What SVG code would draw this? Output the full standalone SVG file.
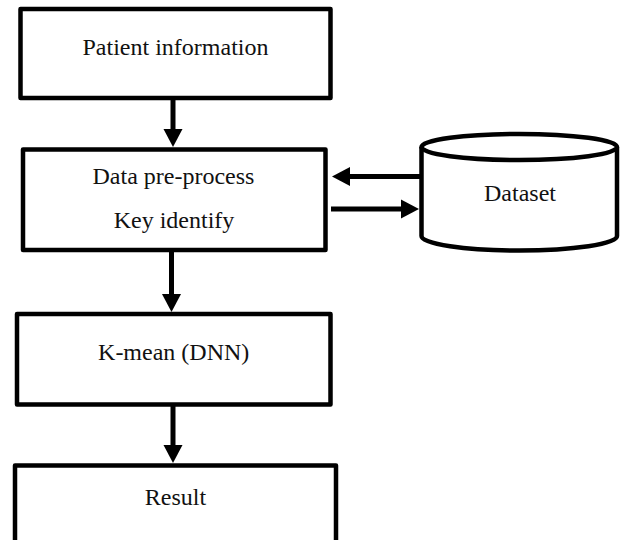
<svg xmlns="http://www.w3.org/2000/svg" width="624" height="540" viewBox="0 0 624 540">
<style>
.box{fill:#fff;stroke:#000;stroke-width:4.5;stroke-linejoin:round}
.db{fill:#fff;stroke:#000;stroke-width:4.5}
.lbl{font-family:"Liberation Serif","Times New Roman",serif;font-size:24px;fill:#111;text-anchor:middle}
.conn{stroke:#000;stroke-width:5;fill:none}
</style>
<defs>
<marker id="ah" markerUnits="userSpaceOnUse" markerWidth="18" markerHeight="20" viewBox="0 0 18 20" refX="3" refY="10" orient="auto">
<path d="M0,0.5 L18,10 L0,19.5 Z" fill="#000"/>
</marker>
</defs>
<rect width="624" height="540" fill="#fff"/>
<g id="patient">
<rect class="box" x="20.5" y="9" width="310" height="89"/>
<text class="lbl" x="175.5" y="55">Patient information</text>
</g>
<g id="preprocess">
<rect class="box" x="23" y="149.5" width="302.5" height="100.5"/>
<text class="lbl" x="173.5" y="184">Data pre-process</text>
<text class="lbl" x="174" y="227.5">Key identify</text>
</g>
<g id="dataset">
<path class="db" d="M421.5,147 A97.75,13 0 0 1 617,147 L617,236 A97.75,14.5 0 0 1 421.5,236 Z"/>
<path class="db" d="M421.5,147 A97.75,13 0 0 0 617,147"/>
<text class="lbl" x="520" y="200.5">Dataset</text>
</g>
<g id="kmean">
<rect class="box" x="17" y="314" width="313.5" height="90.5"/>
<text class="lbl" x="173.7" y="360">K-mean (DNN)</text>
</g>
<g id="result">
<rect class="box" x="15" y="465.5" width="321" height="90"/>
<text class="lbl" x="175.5" y="505">Result</text>
</g>
<g id="connectors">
<line class="conn" x1="173" y1="99" x2="173" y2="132" marker-end="url(#ah)"/>
<line class="conn" x1="171.5" y1="251" x2="171.5" y2="297" marker-end="url(#ah)"/>
<line class="conn" x1="173" y1="405" x2="173" y2="448" marker-end="url(#ah)"/>
<line class="conn" x1="420" y1="176.5" x2="347" y2="176.5" marker-end="url(#ah)"/>
<line class="conn" x1="331" y1="209" x2="404" y2="209" marker-end="url(#ah)"/>
</g>
</svg>
